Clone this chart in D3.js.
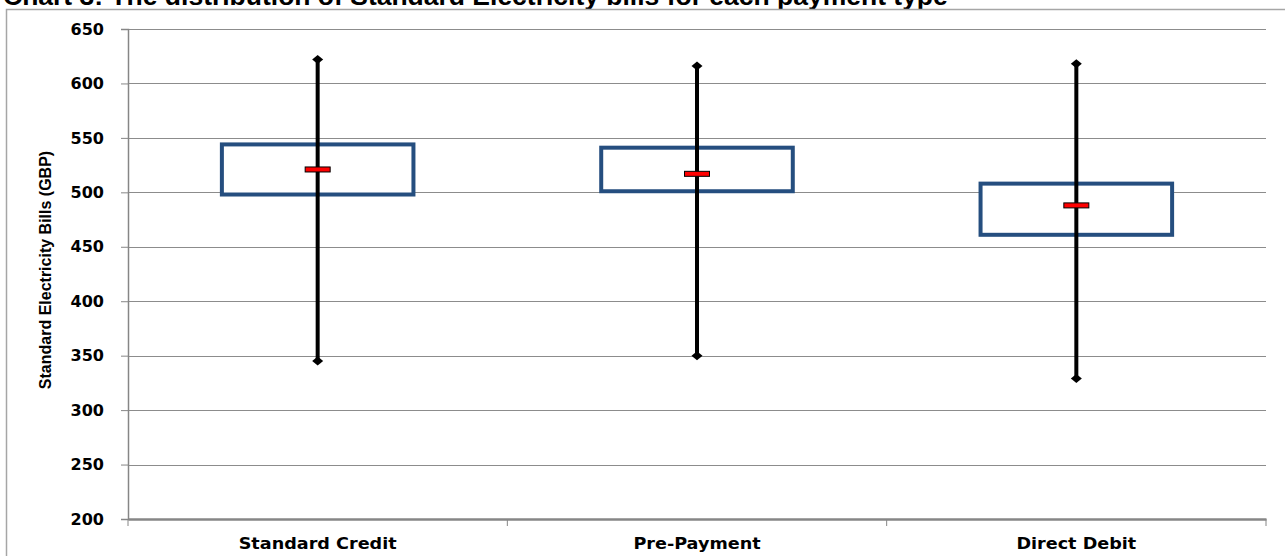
<!DOCTYPE html>
<html>
<head>
<meta charset="utf-8">
<script src="https://cdn.jsdelivr.net/npm/d3@7"></script>
<style>
  html, body { margin: 0; padding: 0; background: #fff; overflow: hidden; }
  svg { display: block; }
</style>
</head>
<body>
<svg id="chart" width="1285" height="556"></svg>
<script>
// Bill distribution per payment method (GBP)
const categories = ["Standard Credit", "Pre-Payment", "Direct Debit"];
const minValues    = [345, 350, 329];
const q1Values     = [498, 501, 461];
const medianValues = [521, 517, 488];
const q3Values     = [544, 541, 508];
const maxValues    = [622, 616, 618];
const yTicks = [200, 250, 300, 350, 400, 450, 500, 550, 600, 650];

const titleText = "Chart 3: The distribution of Standard Electricity bills for each payment type";
const yTitle = "Standard Electricity Bills (GBP)";

const svg = d3.select("#chart");
const W = 1285, H = 556;
const plot = { left: 128, right: 1266, top: 29, bottom: 519 };

const x = d3.scaleBand().domain(categories).range([plot.left, plot.right]).paddingInner(0).paddingOuter(0);
const y = d3.scaleLinear().domain([200, 650]).range([plot.bottom, plot.top]);

// Chart title (runs off the top edge of the frame)
const title = svg.append("text")
  .attr("x", 3).attr("y", 5)
  .attr("font-family", "Liberation Sans, Arial, sans-serif")
  .attr("font-weight", "bold")
  .attr("font-size", 22)
  .attr("fill", "#000")
  .text(titleText);
const tw = title.node().getComputedTextLength();
title.attr("font-size", 22 * 945 / tw);

// Outer chart frame
svg.append("rect")
  .attr("x", 6.5).attr("y", 9.5)
  .attr("width", W + 20).attr("height", H + 20)
  .attr("fill", "none").attr("stroke", "#a6a6a6").attr("stroke-width", 1.5);

// Horizontal gridlines
svg.append("g").selectAll("line").data(yTicks.filter(d => d !== 200)).join("line")
  .attr("x1", plot.left).attr("x2", plot.right)
  .attr("y1", d => Math.round(y(d)) + 0.5).attr("y2", d => Math.round(y(d)) + 0.5)
  .attr("stroke", "#8c8c8c").attr("stroke-width", 1);

// Y axis
const yAxis = svg.append("g")
  .attr("transform", `translate(${plot.left},0)`)
  .call(d3.axisLeft(y).tickValues(yTicks).tickSize(7).tickPadding(17).tickFormat(d3.format("d")));
yAxis.select(".domain").attr("stroke", "#868686").attr("stroke-width", 1.5);
yAxis.selectAll(".tick line").attr("stroke", "#868686");
yAxis.selectAll("text")
  .attr("font-family", "DejaVu Sans, Verdana, sans-serif")
  .attr("font-weight", "bold").attr("font-size", 16).attr("fill", "#000");

// X axis
const xAxis = svg.append("g")
  .attr("transform", `translate(0,${plot.bottom})`)
  .call(d3.axisBottom(x).tickSize(0).tickPadding(19));
xAxis.select(".domain").attr("stroke", "#868686").attr("stroke-width", 2.5);
xAxis.selectAll("text")
  .attr("font-family", "DejaVu Sans, Verdana, sans-serif")
  .attr("font-weight", "bold").attr("font-size", 16).attr("fill", "#000")
  .each(function () {
    // slightly wider letterforms for the category labels
    const w = this.getComputedTextLength();
    d3.select(this).attr("textLength", w * 1.1).attr("lengthAdjust", "spacingAndGlyphs");
  });
// category separators
const bounds = [...categories.map(c => x(c)), x(categories[categories.length - 1]) + x.bandwidth()];
xAxis.append("g").selectAll("line").data(bounds).join("line")
  .attr("x1", d => d).attr("x2", d => d)
  .attr("y1", 0).attr("y2", 7)
  .attr("stroke", "#868686").attr("stroke-width", 1);

// Y axis title
svg.append("text")
  .attr("transform", `translate(51,${(plot.top + plot.bottom) / 2 - 4}) rotate(-90)`)
  .attr("text-anchor", "middle")
  .attr("font-family", "Liberation Sans Narrow, Arial Narrow, sans-serif")
  .attr("font-weight", "bold").attr("font-size", 16)
  .attr("fill", "#000")
  .text(yTitle);

// Box plots
const data = categories.map((c, i) => ({
  cat: c, min: minValues[i], q1: q1Values[i], med: medianValues[i], q3: q3Values[i], max: maxValues[i]
}));
const boxW = x.bandwidth() * 0.505;

const g = svg.append("g").selectAll("g").data(data).join("g")
  .attr("transform", d => `translate(${x(d.cat) + x.bandwidth() / 2},0)`);

g.append("rect")
  .attr("x", -boxW / 2).attr("width", boxW)
  .attr("y", d => y(d.q3)).attr("height", d => y(d.q1) - y(d.q3))
  .attr("fill", "#fff").attr("stroke", "#254e7f").attr("stroke-width", 4);

g.append("line")
  .attr("x1", 0).attr("x2", 0)
  .attr("y1", d => y(d.max)).attr("y2", d => y(d.min))
  .attr("stroke", "#000").attr("stroke-width", 4);

const diamond = (cy) => {
  const p = d3.path();
  p.moveTo(0, cy - 4.5); p.lineTo(5.5, cy); p.lineTo(0, cy + 4.5); p.lineTo(-5.5, cy); p.closePath();
  return p.toString();
};
g.append("path").attr("d", d => diamond(y(d.max))).attr("fill", "#000");
g.append("path").attr("d", d => diamond(y(d.min))).attr("fill", "#000");

g.append("rect")
  .attr("x", -12.5).attr("width", 25)
  .attr("y", d => y(d.med) - 2.5).attr("height", 5)
  .attr("fill", "#ff0000").attr("stroke", "#000").attr("stroke-width", 1);
</script>
</body>
</html>
